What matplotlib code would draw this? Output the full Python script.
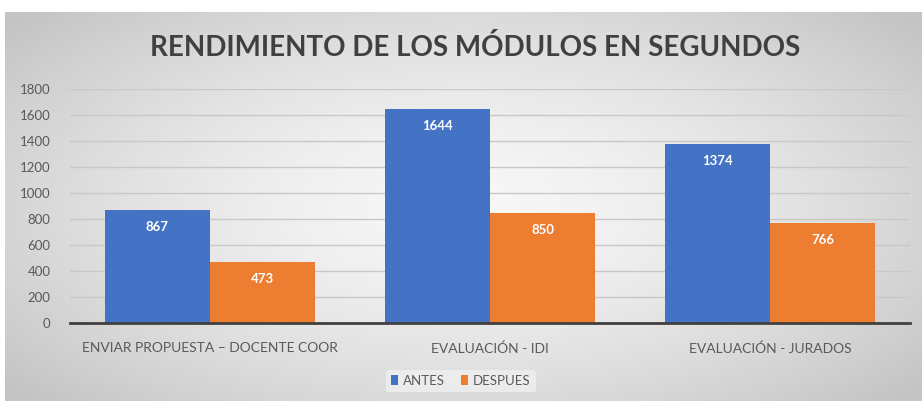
import numpy as np
import matplotlib.pyplot as plt

# Datos del gráfico
categorias = ['ENVIAR PROPUESTA – DOCENTE COOR', 'EVALUACIÓN - IDI', 'EVALUACIÓN - JURADOS']
antes = [867, 1644, 1374]
despues = [473, 850, 766]
series = ['ANTES', 'DESPUES']
yticks = [0, 200, 400, 600, 800, 1000, 1200, 1400, 1600, 1800]

azul = '#4472c4'
naranja = '#ed7d31'
gris_texto = '#595959'

plt.rcParams['font.family'] = ['Lato', 'DejaVu Sans']

fig = plt.figure(figsize=(9.22, 4.01), dpi=100)
fig.patch.set_facecolor('white')

# Fondo con degradado radial (gris en los bordes, claro en el centro)
bg = fig.add_axes([5 / 922, 0, 917 / 922, 389 / 401], zorder=0)
xx, yy = np.meshgrid(np.linspace(-1, 1, 400), np.linspace(-1, 1, 200))
r = np.sqrt(xx ** 2 + (yy * 0.9) ** 2)
shade = 0.97 - 0.2 * np.clip(r / 1.3, 0, 1) ** 1.5
bg.imshow(np.dstack([shade, shade, shade]), aspect='auto', extent=[0, 1, 0, 1])
bg.axis('off')

# Área del gráfico
ax = fig.add_axes([70 / 922, (401 - 323) / 401, 840 / 922, 234 / 401], zorder=1)
ax.patch.set_alpha(0)

x = np.arange(len(categorias))
w = 0.375
b1 = ax.bar(x - w / 2, antes, w, color=azul, label=series[0], zorder=2)
b2 = ax.bar(x + w / 2, despues, w, color=naranja, label=series[1], zorder=2)

for bars in (b1, b2):
    for rect in bars:
        h = rect.get_height()
        ax.annotate(f'{h:.0f}', (rect.get_x() + rect.get_width() / 2, h),
                    xytext=(0, -17), textcoords='offset pixels',
                    ha='center', va='center', color='white', fontsize=9.5, fontweight='bold')

ax.set_xlim(-0.5, 2.5)
ax.set_ylim(0, 1800)
ax.set_yticks(yticks)
ax.set_xticks(x)
ax.set_xticklabels(categorias, fontsize=10)
ax.yaxis.grid(True, color='#c8c8c8', linewidth=1)
ax.set_axisbelow(True)
ax.tick_params(axis='both', length=0, colors=gris_texto)
ax.tick_params(axis='y', labelsize=9.5, pad=14)
ax.tick_params(axis='x', pad=14)
for s in ['top', 'right', 'left']:
    ax.spines[s].set_visible(False)
ax.spines['bottom'].set_color('#404040')
ax.spines['bottom'].set_linewidth(2)

fig.text(475 / 922, 1 - 48 / 401, 'RENDIMIENTO DE LOS MÓDULOS EN SEGUNDOS',
         ha='center', va='center', fontsize=20, fontweight='bold', color='#404040')

leg = fig.legend(loc='center', bbox_to_anchor=(0.5, 1 - 381 / 401), ncol=2,
                 frameon=True, fontsize=9.5, handlelength=0.5, handleheight=0.8,
                 handletextpad=0.4, columnspacing=1.2, borderpad=0.4)
leg.get_frame().set_facecolor('#f0f0f0')
leg.get_frame().set_edgecolor('none')
leg.get_frame().set_alpha(0.8)
for t in leg.get_texts():
    t.set_color(gris_texto)

fig.savefig('out.png', dpi=100)
